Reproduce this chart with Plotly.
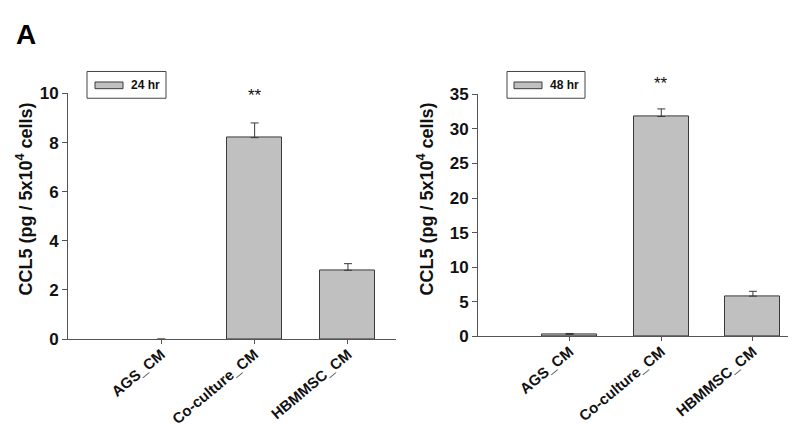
import plotly.graph_objects as go

categories = ["AGS_CM", "Co-culture_CM", "HBMMSC_CM"]
values_24 = [0.0, 8.2, 2.8]
errors_24 = [0.0, 0.6, 0.27]
values_48 = [0.25, 31.8, 5.8]
errors_48 = [0.15, 1.1, 0.7]
yticks_24 = [0, 2, 4, 6, 8, 10]
yticks_48 = [0, 5, 10, 15, 20, 25, 30, 35]
legend_labels = ["24 hr", "48 hr"]
sig_label = "**"

W, H = 796, 429
FONT = "Liberation Sans, Arial, sans-serif"
BAR = "#c0c0c0"
EDGE = "#3a3a3a"
AX = "#555555"

def px(x):
    return x / W

def py(y):
    return 1 - y / H

fig = go.Figure()

fig.add_trace(go.Bar(
    x=categories, y=values_24, width=0.59,
    marker=dict(color=BAR, line=dict(color=EDGE, width=[0 if v == 0 else 1 for v in values_24])),
    error_y=dict(type="data", symmetric=False, array=errors_24,
                 arrayminus=[0] * 3, color=EDGE, thickness=1, width=4),
    xaxis="x", yaxis="y", showlegend=False, name=legend_labels[0]))

fig.add_trace(go.Bar(
    x=categories, y=values_48, width=0.6,
    marker=dict(color=BAR, line=dict(color=EDGE, width=1)),
    error_y=dict(type="data", symmetric=False, array=errors_48,
                 arrayminus=[0] * 3, color=EDGE, thickness=1, width=4),
    xaxis="x2", yaxis="y2", showlegend=False, name=legend_labels[1]))

tickfont = dict(family=FONT, size=17, color="#111111", weight="bold")
catfont = dict(family=FONT, size=15, color="#111111", weight="bold")

common_x = dict(type="category", tickangle=-40, showline=True, linecolor=AX,
                linewidth=1, ticks="outside", ticklen=4, tickcolor=AX,
                showgrid=False, zeroline=False, tickfont=catfont,
                ticklabelstandoff=-4,
                categoryorder="array", categoryarray=categories)
common_y = dict(showline=True, linecolor=AX, linewidth=1, ticks="outside",
                ticklen=5, tickcolor=AX, showgrid=False, zeroline=False,
                tickfont=tickfont)

fig.update_layout(
    width=W, height=H,
    margin=dict(l=0, r=0, t=0, b=0),
    paper_bgcolor="white", plot_bgcolor="white",
    bargap=0,
    xaxis=dict(common_x, domain=[px(60), px(388)], range=[-1, 2.515], anchor="y"),
    yaxis=dict(common_y, domain=[py(337), py(80)], range=[0, 10],
               tickvals=yticks_24, anchor="x"),
    xaxis2=dict(common_x, domain=[px(470), px(788)], range=[-1, 2.47], anchor="y2"),
    yaxis2=dict(common_y, domain=[py(334), py(81)], range=[0, 35],
                tickvals=yticks_48, anchor="x2"),
)

annotations = []
shapes = []

# Panel letter
annotations.append(dict(text="<b>A</b>", x=px(6), y=py(18), xref="paper", yref="paper",
                        xanchor="left", yanchor="middle", showarrow=False,
                        font=dict(family=FONT, size=28, color="black")))

# Y-axis titles
ytitle = "<b>CCL5 (pg / 5x10<sup>4</sup> cells)</b>"
for xc in (17, 418):
    annotations.append(dict(text=ytitle, x=px(xc), y=py(191), xref="paper", yref="paper",
                            xanchor="center", yanchor="middle", textangle=-90,
                            showarrow=False,
                            font=dict(family=FONT, size=18, color="#111111")))

# significance marks
annotations.append(dict(text=sig_label, x=categories[1],
                        y=values_24[1] + errors_24[1], xref="x", yref="y",
                        yshift=27, showarrow=False,
                        font=dict(family=FONT, size=17, color="#111111")))
annotations.append(dict(text=sig_label, x=categories[1],
                        y=values_48[1] + errors_48[1], xref="x2", yref="y2",
                        yshift=25, showarrow=False,
                        font=dict(family=FONT, size=17, color="#111111")))

# Legend boxes
for (bx0, bx1, sx0, sx1, tx), lab in zip([(79, 158, 87, 115, 121), (499, 577, 506, 534, 540)],
                                         legend_labels):
    shapes.append(dict(type="rect", xref="paper", yref="paper",
                       x0=px(bx0), x1=px(bx1), y0=py(85), y1=py(57),
                       line=dict(color="#444444", width=1), fillcolor="white"))
    shapes.append(dict(type="rect", xref="paper", yref="paper",
                       x0=px(sx0), x1=px(sx1), y0=py(75), y1=py(68),
                       line=dict(color=EDGE, width=1), fillcolor=BAR))
    annotations.append(dict(text="<b>" + lab + "</b>", x=px(tx), y=py(71.5),
                            xref="paper", yref="paper", xanchor="left",
                            yanchor="middle", showarrow=False,
                            font=dict(family=FONT, size=12, color="#111111")))

fig.update_layout(annotations=annotations, shapes=shapes)

fig.write_html("out.html")
